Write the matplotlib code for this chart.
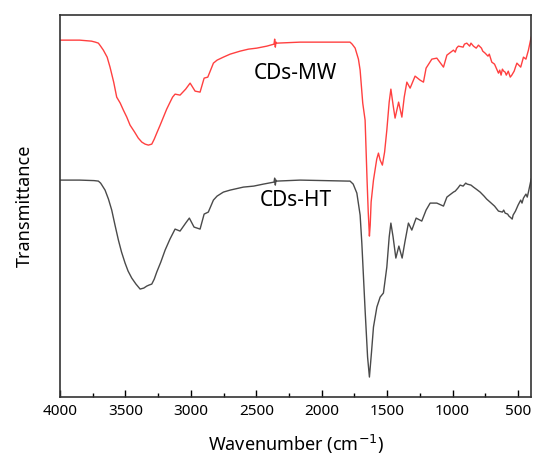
import matplotlib
matplotlib.use("Agg")
import matplotlib.pyplot as plt
from matplotlib.ticker import MultipleLocator

plt.rcParams['font.family'] = ['Noto Sans', 'DejaVu Sans']

# CDs-MW (red) : wavenumber (cm-1), transmittance (a.u.)
mw_wn = [4000, 3850, 3760, 3730, 3707, 3690, 3669, 3640, 3618, 3590, 3567, 3540,
         3516, 3490, 3465, 3430, 3402, 3375, 3350, 3325, 3299, 3280, 3261, 3235,
         3210, 3185, 3159, 3140, 3121, 3083, 3040, 3006, 2968, 2930, 2899, 2871,
         2828, 2800, 2752, 2700, 2624, 2560, 2497, 2420, 2365, 2360, 2355, 2350,
         2344, 2166, 1936, 1800, 1784, 1768, 1745, 1720, 1707, 1687, 1669, 1654,
         1645, 1636, 1630, 1623, 1605, 1580, 1567, 1554, 1537, 1520, 1503, 1485,
         1472, 1455, 1440, 1413, 1388, 1370, 1350, 1325, 1287, 1249, 1223, 1203,
         1159, 1121, 1070, 1044, 994, 980, 970, 956, 920, 910, 892, 870, 860, 841,
         820, 803, 780, 770, 752, 730, 720, 701, 680, 670, 650, 640, 630, 620, 610,
         599, 590, 575, 560, 548, 530, 520, 509, 480, 459, 440, 421, 400]
mw_t = [357, 357, 356, 355, 354, 351, 347, 340, 330, 315, 300, 294,
        287, 280, 272, 265, 259, 255, 253, 252, 253, 258, 264, 272,
        280, 288, 295, 300, 303, 302, 308, 314, 306, 305, 319, 320,
        334, 337, 340, 343, 346, 348, 349, 351, 353, 358, 350, 355,
        354, 355, 355, 355, 355, 353, 349, 338, 327, 294, 277, 217,
        185, 161, 172, 195, 217, 238, 244, 237, 232, 245, 267, 295,
        308, 292, 279, 295, 280, 300, 315, 309, 321, 317, 315, 329,
        338, 339, 330, 342, 347, 345, 349, 351, 350, 353, 354, 351, 354, 351,
        349, 352, 349, 346, 344, 341, 343, 335, 333, 330, 324, 327, 322, 328, 326,
        325, 322, 326, 320, 322, 326, 330, 334, 330, 340, 338, 347, 360]

# CDs-HT (dark grey)
ht_wn = [4000, 3850, 3740, 3707, 3690, 3680, 3656, 3630, 3605, 3580, 3554, 3530,
         3503, 3480, 3452, 3420, 3388, 3360, 3337, 3320, 3299, 3280, 3261, 3230,
         3197, 3160, 3121, 3083, 3040, 3012, 2976, 2930, 2899, 2867, 2828, 2800,
         2752, 2700, 2599, 2520, 2446, 2365, 2360, 2355, 2350, 2344, 2166, 1800,
         1784, 1760, 1732, 1707, 1694, 1669, 1650, 1636, 1620, 1605, 1579, 1554,
         1529, 1503, 1485, 1472, 1455, 1434, 1411, 1386, 1365, 1338, 1312, 1279,
         1236, 1203, 1172, 1121, 1070, 1044, 994, 980, 960, 943, 920, 900, 889,
         860, 841, 820, 790, 760, 740, 714, 680, 650, 620, 610, 599, 580, 570,
         561, 545, 538, 520, 500, 480, 470, 459, 440, 430, 421, 400]
ht_t = [217, 217, 216.5, 216, 214, 212, 207, 198, 187, 172, 157, 145,
        134, 126, 119, 113, 108, 109, 111, 112, 113, 118, 125, 135,
        147, 158, 168, 166, 174, 179, 170, 168, 183, 185, 197, 201,
        205, 207, 210, 211, 213, 215, 219, 212, 217, 216, 217, 216,
        216, 213, 204, 182, 154, 87, 40, 20, 45, 70, 90, 100,
        104, 130, 160, 174, 160, 139, 151, 139, 155, 174, 167, 179,
        176, 187, 194, 194, 191, 200, 205, 206, 209, 212, 211, 214, 213,
        212, 210, 208, 205, 201, 198, 195, 191, 186, 185, 187, 184, 183, 181,
        180, 178, 182, 186, 192, 197, 194, 199, 203, 200, 205, 218]

labels = ["CDs-MW", "CDs-HT"]
colors = ["#ff4040", "#4a4a4a"]
xticks = [4000, 3500, 3000, 2500, 2000, 1500, 1000, 500]

fig = plt.figure(figsize=(5.36, 4.59), dpi=100)
ax = fig.add_axes([0.112, 0.135, 0.879, 0.832])

ax.plot(mw_wn, mw_t, color=colors[0], lw=1.0)
ax.plot(ht_wn, ht_t, color=colors[1], lw=1.0)

ax.text(2204, 324, labels[0], fontsize=15, ha='center', va='center', color='black')
ax.text(2196, 197, labels[1], fontsize=15, ha='center', va='center', color='black')

ax.set_xlim(4000, 400)
ax.set_ylim(0, 382)
ax.set_xticks(xticks)
ax.set_xticklabels([str(t) for t in xticks], fontsize=11)
ax.xaxis.set_minor_locator(MultipleLocator(250))
ax.tick_params(axis='x', which='major', direction='in', length=5, width=1.0, pad=5, top=False)
ax.tick_params(axis='x', which='minor', direction='in', length=3, width=1.0, top=False)
ax.set_yticks([])

for s in ax.spines.values():
    s.set_linewidth(1.2)
    s.set_color('#333333')

ax.set_xlabel("Wavenumber (cm$^{-1}$)", fontsize=13, labelpad=10)
ax.set_ylabel("Transmittance", fontsize=13, labelpad=19)

fig.savefig("out.png", dpi=100)
